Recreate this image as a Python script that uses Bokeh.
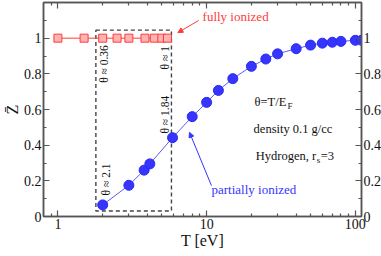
import math
from bokeh.plotting import figure
from bokeh.models import (LogAxis, LinearAxis, FixedTicker, Label, Arrow, NormalHead,
                          Range1d, CustomJSTickFormatter, CustomLabelingPolicy)
from bokeh.embed import file_html
from bokeh.resources import INLINE

# ---- data ----
red_T = [1.0, 1.5, 2.0, 2.5, 3.0, 3.85, 4.45, 5.0, 5.45]
red_Z = [1.0, 1.0, 1.0, 1.0, 1.0, 1.0, 1.0, 1.0, 1.0]

blue_T = [2.0, 3.0, 3.8, 4.15, 5.9, 8.0, 10.0, 12.0, 15.0, 20.0, 25.0, 30.0,
          40.0, 50.0, 60.0, 70.0, 80.0, 100.0, 110.0]
blue_Z = [0.065, 0.175, 0.26, 0.295, 0.442, 0.56, 0.64, 0.707, 0.773, 0.842,
          0.883, 0.912, 0.941, 0.961, 0.972, 0.977, 0.982, 0.988, 0.988]

x_ticks = [1, 10, 100]
x_tick_labels = ["1", "10", "100"]
x_minor = [0.9, 2, 3, 4, 5, 6, 7, 8, 9, 20, 30, 40, 50, 60, 70, 80, 90]
y_ticks = [0, 0.2, 0.4, 0.6, 0.8, 1.0]
y_tick_labels = ["0", "0.2", "0.4", "0.6", "0.8", "1"]
y_minor = [0.1, 0.3, 0.5, 0.7, 0.9, 1.1]

box_T = [1.8, 5.8]
box_Z = [0.031, 1.045]

theta_labels = ["\u03b8 \u2248 0.36", "\u03b8 \u2248 1", "\u03b8 \u2248 1.84", "\u03b8 \u2248 2.1"]
theta_T = [2.04, 5.23, 5.23, 2.09]
theta_Z = [0.855, 0.89, 0.571, 0.208]

SERIF = "Liberation Serif"
AX = "#555555"
RED = "#ff3b3b"
BLUE = "#3535ff"

p = figure(frame_width=318, frame_height=214, x_axis_type="log", title=None,
           x_range=Range1d(0.8, 110), y_range=Range1d(0, 1.2),
           output_backend="svg", toolbar_location=None,
           min_border_left=0, min_border_right=0, min_border_top=2, min_border_bottom=0)
p.grid.visible = False
p.outline_line_color = AX
p.outline_line_width = 1.5
p.background_fill_color = "white"


def style(ax):
    ax.major_tick_in = 6
    ax.major_tick_out = 0
    ax.minor_tick_in = 3
    ax.minor_tick_out = 0
    ax.axis_line_color = AX
    ax.axis_line_width = 1.5
    ax.major_tick_line_color = AX
    ax.minor_tick_line_color = AX
    ax.major_tick_line_width = 1.2
    ax.minor_tick_line_width = 1.2
    ax.major_label_text_font = SERIF
    ax.major_label_text_font_size = "14px"
    ax.major_label_text_color = "#111111"
    ax.major_label_standoff = 2
    ax.axis_label_text_font = SERIF
    ax.axis_label_text_font_style = "normal"
    ax.axis_label_text_font_size = "16px"
    ax.axis_label_text_color = "#111111"
    ax.axis_label_standoff = 0


def labeler(tick_vals, tick_labels):
    return CustomJSTickFormatter(
        args=dict(tvals=tick_vals, tlabels=tick_labels),
        code="for (let k = 0; k < tvals.length; k++) {"
             " if (Math.abs(tvals[k] - tick) < 1e-9) return tlabels[k]; }"
             " return String(tick);")


xt = FixedTicker(ticks=x_ticks, minor_ticks=x_minor)
yt = FixedTicker(ticks=y_ticks, minor_ticks=y_minor)

bx = p.xaxis[0]
bx.ticker = xt
bx.formatter = labeler(x_ticks, x_tick_labels)
bx.axis_label = "T [eV]"
style(bx)

ly = p.yaxis[0]
ly.ticker = yt
ly.formatter = labeler(y_ticks, y_tick_labels)
ly.axis_label = "Z\u0304"
style(ly)

tx = LogAxis(ticker=xt, formatter=labeler(x_ticks, x_tick_labels),
             major_label_policy=CustomLabelingPolicy(code="return new Set()"))
style(tx)
tx.major_label_text_font_size = "0px"
tx.major_label_standoff = 0
p.add_layout(tx, "above")

ry = LinearAxis(ticker=yt, formatter=labeler(y_ticks, y_tick_labels))
style(ry)
p.add_layout(ry, "right")

# dashed box
p.quad(left=[box_T[0]], right=[box_T[1]], bottom=[box_Z[0]], top=[box_Z[1]],
       fill_alpha=0, line_color="#444444", line_width=1.4, line_dash="4 3")

# fully ionized series
p.line(red_T, red_Z, line_color=RED, line_width=1)
p.scatter(red_T, red_Z, marker="square", size=8, fill_color="#ffb3b3",
          line_color=RED, line_width=1)

# partially ionized series
p.line(blue_T, blue_Z, line_color="#5a5aff", line_width=1)
p.scatter(blue_T, blue_Z, marker="circle", size=10, fill_color=BLUE,
          line_color="#2a2aee", line_width=1)

# rotated theta labels
for t, xv, yv in zip(theta_labels, theta_T, theta_Z):
    p.add_layout(Label(x=xv, y=yv, text=t, angle=math.pi / 2,
                       text_align="center", text_baseline="middle",
                       text_font=SERIF, text_font_size="11.5px", text_color="#111111"))

# annotations
p.add_layout(Label(x=9.39, y=1.121, text="fully ionized", text_align="left",
                   text_baseline="middle", text_font=SERIF, text_font_size="13px",
                   text_color=RED))
p.add_layout(Arrow(end=NormalHead(size=5, fill_color=RED, line_color=RED),
                   x_start=8.84, y_start=1.099, x_end=6.41, y_end=1.031,
                   line_color=RED, line_width=1))

p.add_layout(Label(x=10.78, y=0.151, text="partially ionized", text_align="left",
                   text_baseline="middle", text_font=SERIF, text_font_size="13px",
                   text_color=BLUE))
p.add_layout(Arrow(end=NormalHead(size=5, fill_color=BLUE, line_color=BLUE),
                   x_start=10.78, y_start=0.173, x_end=7.67, y_end=0.472,
                   line_color=BLUE, line_width=1))

tk = dict(text_baseline="middle", text_font=SERIF, text_color="#111111")
p.add_layout(Label(x=21.0, y=0.643, text="\u03b8=T/E", text_align="left",
                   text_font_size="12.5px", **tk))
p.add_layout(Label(x=21.0, y=0.643, x_offset=33, y_offset=-4, text="F", text_align="left",
                   text_font_size="9px", **tk))
p.add_layout(Label(x=20.7, y=0.492, text="density 0.1 g/cc", text_align="left",
                   text_font_size="12.5px", **tk))
p.add_layout(Label(x=21.4, y=0.341, text="Hydrogen, r", text_align="left",
                   text_font_size="12.5px", **tk))
p.add_layout(Label(x=21.4, y=0.341, x_offset=61, y_offset=-4, text="s", text_align="left",
                   text_font_size="9px", **tk))
p.add_layout(Label(x=21.4, y=0.341, x_offset=65, text="=3", text_align="left",
                   text_font_size="12.5px", **tk))

open("out.html", "w").write(file_html(p, INLINE))
